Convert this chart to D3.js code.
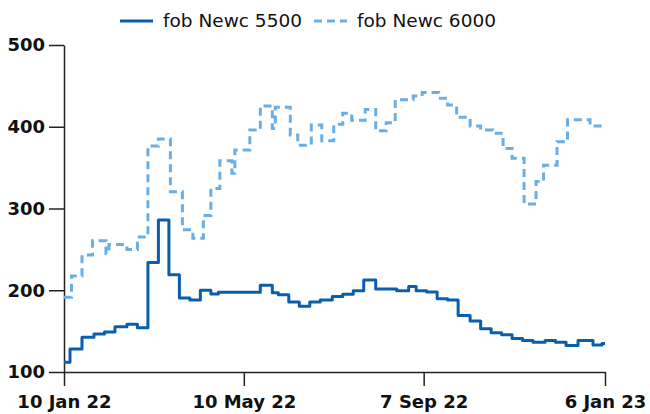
<!DOCTYPE html>
<html>
<head>
<meta charset="utf-8">
<script src="https://cdn.jsdelivr.net/npm/d3@7"></script>
<style>
  html, body { margin: 0; padding: 0; background: #fff; }
  svg { display: block; }
</style>
</head>
<body>
<svg id="chart" width="650" height="414"></svg>
<script>
const seriesNames = ["fob Newc 5500", "fob Newc 6000"];

const dates5500 = ["2022-01-10","2022-01-14","2022-01-22","2022-01-30","2022-02-06","2022-02-13","2022-02-21","2022-02-28",
  "2022-03-07","2022-03-14","2022-03-21","2022-03-28","2022-04-04","2022-04-11","2022-04-18","2022-04-23",
  "2022-05-21","2022-05-29","2022-06-02","2022-06-09","2022-06-16","2022-06-23","2022-06-30","2022-07-08",
  "2022-07-15","2022-07-22","2022-07-29","2022-08-06","2022-08-20","2022-08-28","2022-09-02","2022-09-09",
  "2022-09-16","2022-09-23","2022-09-30","2022-10-08","2022-10-15","2022-10-22","2022-10-29","2022-11-05",
  "2022-11-12","2022-11-19","2022-11-27","2022-12-04","2022-12-11","2022-12-19","2022-12-29","2023-01-04","2023-01-06"];
const values5500 = [112,128,142.5,146.5,149,155.5,158.5,154,
  234,286,219,190.5,188,200,195.5,197.5,
  206,197,194.5,185.5,180.5,185.5,188,192.5,
  195,199.5,212.5,201.5,199.5,204.5,199.5,198,
  189.5,188,169,162.5,153,148,145.5,141,
  138.5,136.5,138.5,136.5,132.5,138.5,133,135,135];

const dates6000 = ["2022-01-10","2022-01-15","2022-01-22","2022-01-29","2022-02-07","2022-02-09","2022-02-21","2022-02-28",
  "2022-03-07","2022-03-14","2022-03-22","2022-03-30","2022-04-06","2022-04-13","2022-04-18","2022-04-24",
  "2022-05-02","2022-05-04","2022-05-14","2022-05-21","2022-05-29","2022-05-31","2022-06-10","2022-06-15",
  "2022-06-24","2022-07-01","2022-07-09","2022-07-15","2022-07-21","2022-07-30","2022-08-06","2022-08-13",
  "2022-08-19","2022-08-31","2022-09-06","2022-09-17","2022-09-23","2022-09-29","2022-10-08","2022-10-15",
  "2022-10-23","2022-10-30","2022-11-05","2022-11-13","2022-11-21","2022-11-26","2022-12-05","2022-12-12",
  "2022-12-27","2023-01-06"];
const values6000 = [191.5,217.5,243,260.5,245,256,250,265,
  376.5,385,320.5,274,263.5,291.5,324.5,358.5,
  343,371.5,396,425.5,398,424,390,377.5,
  402,383,403,416.5,408,421,395,405,
  433,437.5,442,435,426.5,411.5,401,396,
  392,373.5,361.5,305.5,333,353,381.5,408.5,
  401,401];

const yTicks = [100, 200, 300, 400, 500];
const xTickDates = ["2022-01-10","2022-05-10","2022-09-07","2023-01-06"];

const colors = ["#0a5fad", "#6aafe3"];

const parse = d3.utcParse("%Y-%m-%d");
const fmt = d3.utcFormat("%-d %b %y");

const margin = {top: 45, right: 45, bottom: 42, left: 64};
const W = 650, H = 414;
const svg = d3.select("#chart");

const x = d3.scaleUtc()
  .domain([parse("2022-01-10"), parse("2023-01-06")])
  .range([margin.left, W - margin.right]);
const y = d3.scaleLinear().domain([100, 500]).range([H - margin.bottom, margin.top]);

const s5500 = dates5500.map((d, i) => ({date: parse(d), value: values5500[i]}));
const s6000 = dates6000.map((d, i) => ({date: parse(d), value: values6000[i]}));

const line = d3.line().x(d => x(d.date)).y(d => y(d.value)).curve(d3.curveStepAfter);

// axes
const xAxis = svg.append("g")
  .attr("transform", `translate(0,${H - margin.bottom})`)
  .call(d3.axisBottom(x).tickValues(xTickDates.map(parse)).tickFormat(fmt).tickSize(14).tickPadding(9).tickSizeOuter(0));
const yAxis = svg.append("g")
  .attr("transform", `translate(${margin.left},0)`)
  .call(d3.axisLeft(y).tickValues(yTicks).tickSize(15).tickPadding(4).tickSizeOuter(0));

[xAxis, yAxis].forEach(g => {
  g.select(".domain").attr("stroke", "#222").attr("stroke-width", 1.5);
  g.selectAll(".tick line").attr("stroke", "#222").attr("stroke-width", 1.5);
  g.selectAll(".tick text")
    .attr("fill", "#111")
    .style("font-family", "'DejaVu Sans', sans-serif")
    .style("font-weight", "bold")
    .style("font-size", "18px");
});

// lines
svg.append("path").datum(s6000)
  .attr("fill", "none").attr("stroke", colors[1]).attr("stroke-width", 3)
  .attr("stroke-dasharray", "8,5")
  .attr("d", line);
svg.append("path").datum(s5500)
  .attr("fill", "none").attr("stroke", colors[0]).attr("stroke-width", 3)
  .attr("stroke-linejoin", "round")
  .attr("d", line);

// legend
const legend = svg.append("g").style("font-family", "'DejaVu Sans', sans-serif").style("font-size", "18.5px");
const items = [
  {name: seriesNames[0], color: colors[0], dash: null, x0: 120},
  {name: seriesNames[1], color: colors[1], dash: "8,5", x0: 314}
];
items.forEach(it => {
  legend.append("line")
    .attr("x1", it.x0).attr("x2", it.x0 + 33).attr("y1", 21).attr("y2", 21)
    .attr("stroke", it.color).attr("stroke-width", 3)
    .attr("stroke-dasharray", it.dash);
  legend.append("text")
    .attr("x", it.x0 + 43).attr("y", 21).attr("dy", "0.35em")
    .attr("fill", "#111")
    .text(it.name);
});
</script>
</body>
</html>
